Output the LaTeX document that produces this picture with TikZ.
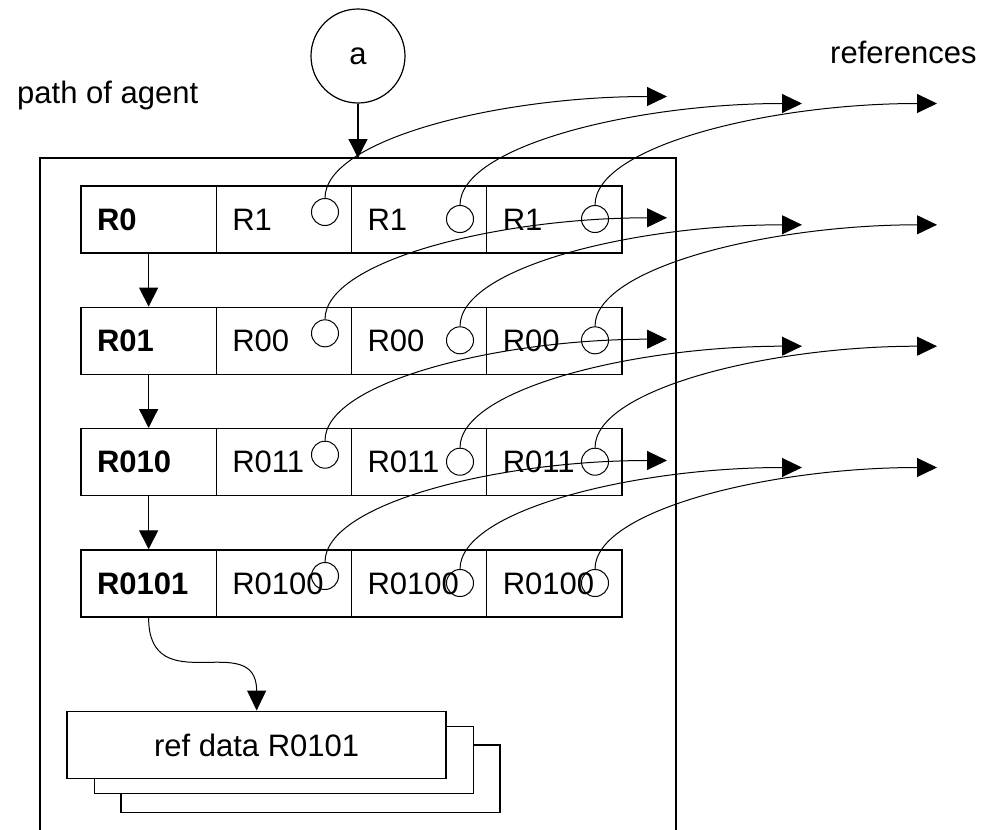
\documentclass[tikz,border=0pt]{standalone}
\usepackage{fontspec}
\setmainfont{Liberation Sans}
\usetikzlibrary{arrows.meta}
\newcommand\bigfont{\fontsize{31pt}{37pt}\selectfont}
\tikzset{
  boxline/.style={line width=1.4pt},
  cellbox/.style={draw, boxline, rectangle, minimum height=67pt, text width=103.25pt,
    inner xsep=16pt, inner ysep=0pt, align=left, font=\bigfont},
  headbox/.style={cellbox, font=\bigfont\bfseries},
  hole/.style={draw, circle, line width=1pt, minimum size=27pt, inner sep=0pt},
  refline/.style={line width=1pt, -{Triangle[length=20pt,width=19pt]}},
  flow/.style={line width=1.3pt, -{Triangle[length=19pt,width=19pt]}},
  databox/.style={draw, boxline, fill=white, minimum width=379pt, minimum height=67.5pt, inner sep=0pt, font=\bigfont},
  plain/.style={inner sep=0pt, font=\bigfont}
}
\begin{document}
\begin{tikzpicture}[x=1pt,y=-1pt]
\useasboundingbox (0,0) rectangle (983,830);
% labels
\node[plain, anchor=base west] (poa) at (17,103) {path of agent};
\node[plain, anchor=base west] (refs) at (830,63) {references};
% agent
\node[draw, circle, line width=1.2pt, minimum size=94pt, inner sep=0pt, font=\bigfont] (a) at (358,56) {\raisebox{-4pt}{a}};
% outer box
\draw[boxline] (40,830) -- (40,158) -- (676,158) -- (676,830);
\coordinate (boxtop) at (358,158);
\draw[flow] (a.south) -- (boxtop);
% rows
\node[headbox] (r0c0) at (148.625,219.5) {R0};
\node[cellbox] (r0c1) at (283.875,219.5) {R1};
\node[cellbox] (r0c2) at (419.125,219.5) {R1};
\node[cellbox] (r0c3) at (554.375,219.5) {R1};
\node[headbox] (r1c0) at (148.625,340.8) {R01};
\node[cellbox] (r1c1) at (283.875,340.8) {R00};
\node[cellbox] (r1c2) at (419.125,340.8) {R00};
\node[cellbox] (r1c3) at (554.375,340.8) {R00};
\node[headbox] (r2c0) at (148.625,462.2) {R010};
\node[cellbox] (r2c1) at (283.875,462.2) {R011};
\node[cellbox] (r2c2) at (419.125,462.2) {R011};
\node[cellbox] (r2c3) at (554.375,462.2) {R011};
\node[headbox] (r3c0) at (148.625,583.5) {R0101};
\node[cellbox] (r3c1) at (283.875,583.5) {R0100};
\node[cellbox] (r3c2) at (419.125,583.5) {R0100};
\node[cellbox] (r3c3) at (554.375,583.5) {R0100};
% row flow
\draw[flow] (r0c0.south) -- (r1c0.north);
\draw[flow] (r1c0.south) -- (r2c0.north);
\draw[flow] (r2c0.south) -- (r3c0.north);
% holes
\node[hole] (h01) at (325,212) {};
\node[hole] (h02) at (460,219) {};
\node[hole] (h03) at (595,219) {};
\node[hole] (h11) at (325,333.3) {};
\node[hole] (h12) at (460,340.3) {};
\node[hole] (h13) at (595,340.3) {};
\node[hole] (h21) at (325,454.7) {};
\node[hole] (h22) at (460,461.7) {};
\node[hole] (h23) at (595,461.7) {};
\node[hole] (h31) at (325,576) {};
\node[hole] (h32) at (460,583) {};
\node[hole] (h33) at (595,583) {};
% reference targets
\coordinate (t01) at (667,96.5);
\coordinate (t02) at (802,103.5);
\coordinate (t03) at (937,103.5);
\coordinate (t11) at (667,217.8);
\coordinate (t12) at (802,224.8);
\coordinate (t13) at (937,224.8);
\coordinate (t21) at (667,339.2);
\coordinate (t22) at (802,346.2);
\coordinate (t23) at (937,346.2);
\coordinate (t31) at (667,460.5);
\coordinate (t32) at (802,467.5);
\coordinate (t33) at (937,467.5);
\foreach \r in {0,1,2,3}{
  \foreach \c in {1,2,3}{
    \draw[refline] (h\r\c.north) .. controls +(0,-59) and +(-167,0) .. (t\r\c);
  }
}
% ref data stack
\node[databox] (rd3) at (310.35,778.85) {};
\node[databox] (rd2) at (284,760) {};
\node[databox] (rd) at (256.65,745) {ref data R0101};
\draw[refline] (r3c0.south) .. controls +(0,85) and +(0,-83) .. (rd.north);
\end{tikzpicture}
\end{document}
